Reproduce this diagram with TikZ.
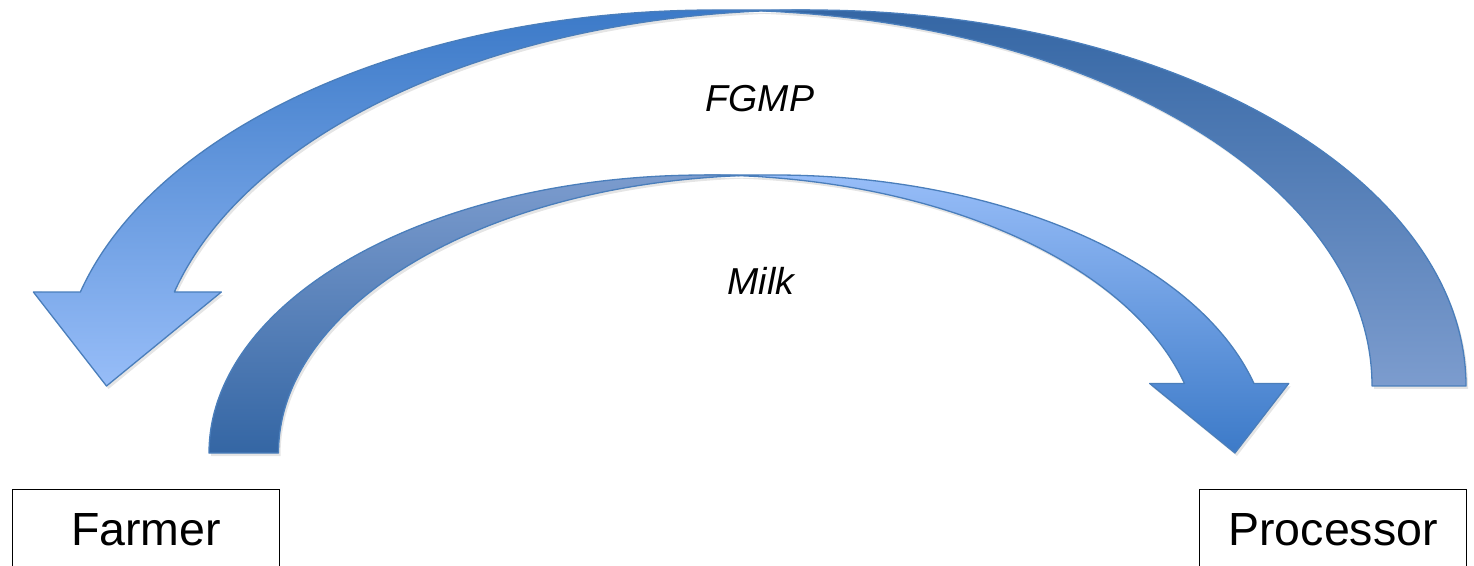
\documentclass[tikz,border=0pt]{standalone}
\usepackage{fontspec}
\setmainfont{Liberation Sans}
\definecolor{arrowline}{RGB}{74,126,187}
\definecolor{hdark}{RGB}{60,122,200}
\definecolor{hlight}{RGB}{151,189,248}
\definecolor{tdark}{RGB}{52,102,164}
\definecolor{tlight}{RGB}{124,156,206}
\newcommand{\OuterHeadPath}{(174.35,273) arc[start angle=165.5225, end angle=90, x radius=656.25, y radius=376] -- (715.75,555) arc[start angle=90, end angle=165.5225, x radius=656.25, y radius=376] -- (33.35,273) -- (106.5,179) -- (221.35,273) -- cycle}
\newcommand{\OuterTailPath}{(1466,179) arc[start angle=0, end angle=94.107, x radius=656.25, y radius=376] arc[start angle=85.893, end angle=0, x radius=656.25, y radius=376] -- cycle}
\newcommand{\InnerHeadPath}{(1184.44,181.5) arc[start angle=14.4775, end angle=90, x radius=495.6, y radius=278] -- (774.1,390) arc[start angle=90, end angle=14.4775, x radius=495.6, y radius=278] -- (1288.69,181.5) -- (1234.95,112) -- (1149.69,181.5) -- cycle}
\newcommand{\InnerTailPath}{(209,112) arc[start angle=180, end angle=85.979, x radius=495.6, y radius=278] arc[start angle=94.021, end angle=180, x radius=495.6, y radius=278] -- cycle}
\tikzset{
  band/.style={draw=arrowline, line width=1.3pt, line join=round},
  shadowband/.style={fill=black, fill opacity=0.10, draw=none},
  partybox/.style={draw=black, line width=1.2pt, inner sep=0pt, minimum width=267pt,
    text height=56pt, text depth=40pt, anchor=north west,
    font=\fontsize{46.5}{50}\selectfont},
  flowlabel/.style={anchor=base, inner sep=0pt, font=\fontsize{37.5}{40}\selectfont\itshape}
}
\begin{document}
\begin{tikzpicture}[x=1pt, y=1pt]
\useasboundingbox (0,0) rectangle (1474,565);
\clip (0,0) rectangle (1474,565);
% shadows
\begin{scope}[shift={(2,-3)}]
  \fill[shadowband] \OuterHeadPath;
  \fill[shadowband] \OuterTailPath;
  \fill[shadowband] \InnerHeadPath;
  \fill[shadowband] \InnerTailPath;
\end{scope}
% outer arrow (FGMP): processor -> farmer
\path[band, top color=hdark, bottom color=hlight] \OuterHeadPath;
\path[band, top color=tdark, bottom color=tlight] \OuterTailPath;
% inner arrow (Milk): farmer -> processor
\path[band, top color=hlight, bottom color=hdark] \InnerHeadPath;
\path[band, top color=tlight, bottom color=tdark] \InnerTailPath;
% labels
\node[flowlabel] (fgmp) at (760,453) {FGMP};
\node[flowlabel] (milk) at (761,270) {Milk};
% boxes
\node[partybox] (farmer) at (12,76) {Farmer};
\node[partybox] (processor) at (1199,76) {Processor};
\end{tikzpicture}
\end{document}
